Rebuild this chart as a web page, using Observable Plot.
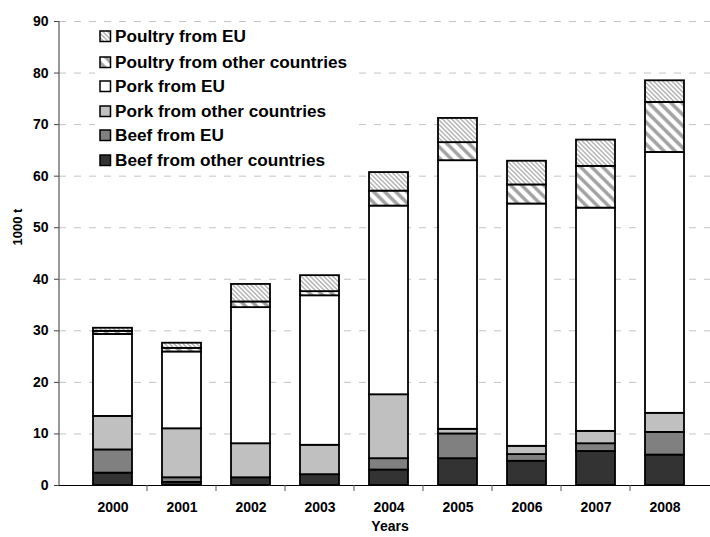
<!DOCTYPE html>
<html>
<head>
<meta charset="utf-8">
<script src="https://cdn.jsdelivr.net/npm/d3@7"></script>
<script src="https://cdn.jsdelivr.net/npm/@observablehq/plot@0.6"></script>
<style>
  html, body { margin: 0; padding: 0; background: #fff; overflow: hidden; }
  #wrap { position: relative; width: 710px; height: 537px; overflow: hidden; }
  #legend { position: absolute; left: 95px; top: 24px; width: 258px; height: 148px; background: #fff;
            font-family: "Liberation Sans", Arial, sans-serif; font-weight: bold; font-size: 17.2px; color: #000; }
  .item { position: absolute; left: 4px; height: 22px; display: flex; align-items: center; white-space: nowrap; }
  .item svg { margin-right: 3px; display: block; }
  #defs { position: absolute; width: 0; height: 0; }
</style>
</head>
<body>
<svg id="defs" width="0" height="0">
  <defs>
    <pattern id="hatchWide" patternUnits="userSpaceOnUse" width="7.8" height="7.8" patternTransform="rotate(-45)">
      <rect width="7.8" height="7.8" fill="#fff"></rect>
      <line x1="3.9" y1="0" x2="3.9" y2="7.8" stroke="#a0a0a0" stroke-width="3.4"></line>
    </pattern>
    <pattern id="hatchFine" patternUnits="userSpaceOnUse" width="3.2" height="3.2" patternTransform="rotate(-45)">
      <rect width="3.2" height="3.2" fill="#fff"></rect>
      <line x1="1.6" y1="0" x2="1.6" y2="3.2" stroke="#b0b0b0" stroke-width="1.4"></line>
    </pattern>
  </defs>
</svg>
<div id="wrap"><div id="chart"></div><div id="legend"></div></div>
<script>
// ---- data ----
const years = ["2000", "2001", "2002", "2003", "2004", "2005", "2006", "2007", "2008"];
const series = [
  "Beef from other countries",
  "Beef from EU",
  "Pork from other countries",
  "Pork from EU",
  "Poultry from other countries",
  "Poultry from EU"
];
const beefOther    = [2.4, 0.6, 1.5, 2.1, 3.0, 5.2, 4.7, 6.6, 5.9];
const beefEU       = [4.5, 0.9, 0.0, 0.0, 2.2, 4.8, 1.3, 1.5, 4.4];
const porkOther    = [6.5, 9.5, 6.6, 5.7, 12.4, 0.9, 1.6, 2.4, 3.7];
const porkEU       = [15.9, 14.9, 26.4, 29.0, 36.6, 52.1, 47.0, 43.3, 50.6];
const poultryOther = [0.6, 0.7, 1.1, 0.8, 2.9, 3.5, 3.7, 8.1, 9.7];
const poultryEU    = [0.6, 1.0, 3.4, 3.1, 3.6, 4.7, 4.6, 5.1, 4.2];
const yTicks = [0, 10, 20, 30, 40, 50, 60, 70, 80, 90];
const yLabel = "1000 t";
const xLabel = "Years";

const fills = ["#333333", "#808080", "#c0c0c0", "#ffffff", "url(#hatchWide)", "url(#hatchFine)"];
const valuesBySeries = [beefOther, beefEU, porkOther, porkEU, poultryOther, poultryEU];

const table = [];
series.forEach((s, si) => {
  years.forEach((yr, yi) => {
    const v = valuesBySeries[si][yi];
    if (v > 0) table.push({ year: yr, series: s, value: v });
  });
});

const font = "'Liberation Sans', Arial, sans-serif";

const chart = Plot.plot({
  width: 710,
  height: 537,
  marginTop: 21,
  marginBottom: 52,
  marginLeft: 59,
  marginRight: 0,
  style: { fontFamily: font, background: "#fff", color: "#000" },
  x: { domain: years, range: [59, 719], padding: 0.43, axis: null },
  y: { domain: [0, 90], axis: null },
  color: { domain: series, range: fills },
  marks: [
    Plot.ruleY(yTicks.filter(d => d > 0), { stroke: "#c4c4c4", strokeWidth: 1, strokeDasharray: "7,8" }),
    Plot.barY(table, { x: "year", y: "value", fill: "series", stroke: "#000", strokeWidth: 1.8 }),
    Plot.axisY({ ticks: yTicks, tickSize: 5, tickPadding: 6, fontSize: 14, fontWeight: "bold", label: null, stroke: "#444" }),
    Plot.axisX({ tickSize: 0, tickPadding: 17, fontSize: 14, fontWeight: "bold", label: null }),
    Plot.ruleY([0], { stroke: "#000", strokeWidth: 1 }),
    Plot.text([xLabel], { frameAnchor: "bottom", dx: 5, dy: 45.5, fontSize: 14, fontWeight: "bold" }),
    Plot.text([yLabel], { frameAnchor: "left", rotate: -90, dx: -42, dy: -8, fontSize: 13, fontWeight: "bold" })
  ]
});

// axis line and category-boundary ticks, positioned from the plot's scales
const sx = chart.scale("x");
const sy = chart.scale("y");
const svg = d3.select(chart);
const y0 = sy.apply(0), yTop = sy.apply(90);
const xLeft = sx.range[0];
svg.append("line")
  .attr("x1", xLeft).attr("x2", xLeft).attr("y1", y0).attr("y2", yTop)
  .attr("stroke", "#555").attr("stroke-width", 1.2);
const gap = (sx.step - sx.bandwidth) / 2;
years.forEach((yr, i) => {
  if (i === 0) return;
  const bx = sx.apply(yr) - gap;
  svg.append("line")
    .attr("x1", bx).attr("x2", bx).attr("y1", y0).attr("y2", y0 + 6)
    .attr("stroke", "#555").attr("stroke-width", 1);
});

document.getElementById("chart").appendChild(chart);

// legend (top to bottom: reverse of stacking order)
const legend = d3.select("#legend");
const rowCenters = [12.5, 38, 62.5, 87, 111.5, 136];
series.slice().reverse().forEach((s, i) => {
  const fill = fills[series.indexOf(s)];
  const item = legend.append("div").attr("class", "item").style("top", (rowCenters[i] - 11) + "px");
  const sw = item.append("svg").attr("width", 13).attr("height", 13);
  sw.append("rect").attr("x", 1).attr("y", 1).attr("width", 10.5).attr("height", 10.5)
    .attr("fill", fill).attr("stroke", "#000").attr("stroke-width", 1.5);
  item.append("span").text(s);
});
</script>
</body>
</html>
